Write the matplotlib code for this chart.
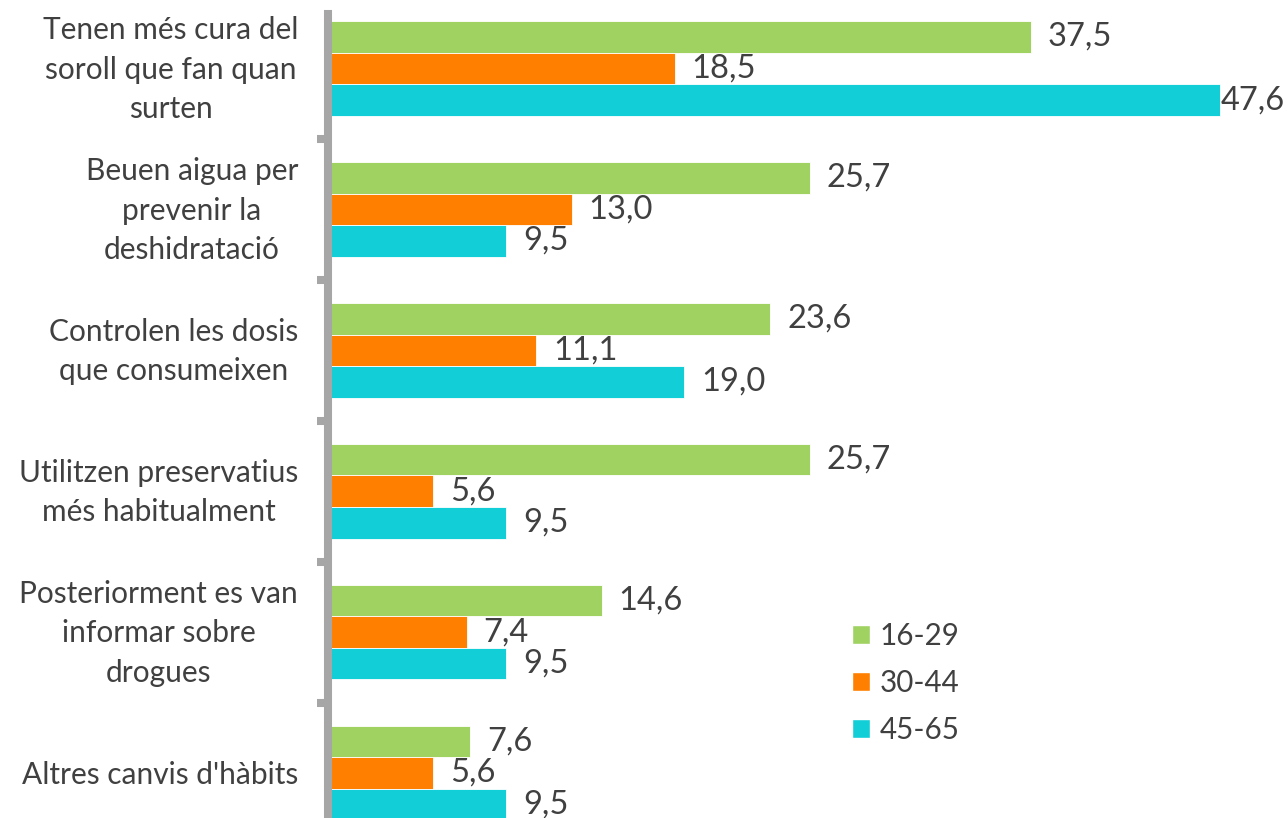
import matplotlib
matplotlib.use("Agg")
import matplotlib.pyplot as plt
import matplotlib.transforms as mtransforms
import numpy as np
from matplotlib.patches import Patch

# Data
categories = [
    "Tenen més cura del\nsoroll que fan quan\nsurten",
    "Beuen aigua per\nprevenir la\ndeshidratació",
    "Controlen les dosis\nque consumeixen",
    "Utilitzen preservatius\nmés habitualment",
    "Posteriorment es van\ninformar sobre\ndrogues",
    "Altres canvis d'hàbits",
]
series_names = ["16-29", "30-44", "45-65"]
v_16_29 = [37.5, 25.7, 23.6, 25.7, 14.6, 7.6]
v_30_44 = [18.5, 13.0, 11.1, 5.6, 7.4, 5.6]
v_45_65 = [47.6, 9.5, 19.0, 9.5, 9.5, 9.5]
colors = ["#A0D262", "#FF8000", "#12CFD7"]

plt.rcParams['font.family'] = ['Lato', 'DejaVu Sans']
text_color = "#404040"

W, H = 1288, 818
fig = plt.figure(figsize=(W / 100, H / 100), dpi=100)

# axes placed in pixel terms; the bottom runs past the picture edge like the source crop
left_px, right_px = 328, 1265
top_px, bot_px = 14, 860
ax = fig.add_axes([left_px / W, (H - bot_px) / H,
                   (right_px - left_px) / W, (bot_px - top_px) / H])

pitch = 140.9
first_center = 68.5
ax.set_ylim((bot_px - first_center) / pitch, (top_px - first_center) / pitch)
ax.set_xlim(0, (right_px - left_px) / 18.74)

y = np.arange(len(categories))
bh = 0.224
for k, (vals, c) in enumerate(zip([v_16_29, v_30_44, v_45_65], colors)):
    bars = ax.barh(y + (k - 1) * bh, vals, height=bh, color=c,
                   edgecolor="white", linewidth=0.6)
    for b, v in zip(bars, vals):
        lab = f"{v:.1f}".replace(".", ",")
        off = 17 if v < 45 else 1
        ax.annotate(lab, (v, b.get_y() + b.get_height() / 2),
                    xytext=(off * 0.72, 0), textcoords="offset points",
                    ha="left", va="center", fontsize=23.5, color=text_color,
                    annotation_clip=False)

ax.set_yticks(y)
ax.set_yticklabels(categories, fontsize=21.5, color=text_color,
                   multialignment="center", linespacing=1.5)
ax.tick_params(axis="y", which="major", length=0, pad=21.5)
# multi-line labels sit a bit low with the baseline centring, nudge them up
for t in ax.get_yticklabels():
    if "\n" in t.get_text():
        t.set_transform(t.get_transform() +
                        mtransforms.ScaledTranslation(0, 7 / 100, fig.dpi_scale_trans))
ax.set_yticks(y[:-1] + 0.5, minor=True)
ax.tick_params(axis="y", which="minor", length=8, width=5.8, color="#A6A6A6")
ax.set_xticks([])

for s in ["top", "right", "bottom"]:
    ax.spines[s].set_visible(False)
ax.spines["left"].set_color("#A6A6A6")
ax.spines["left"].set_linewidth(5.8)

handles = [Patch(facecolor=c, edgecolor="white") for c in colors]
ax.legend(handles, series_names, loc="upper left", frameon=False,
          bbox_to_anchor=(852 / W, 1 - 622 / H), bbox_transform=fig.transFigure,
          fontsize=21.3, handlelength=0.6, handleheight=0.6, handletextpad=0.34,
          labelspacing=0.64, borderpad=0, borderaxespad=0, labelcolor=text_color)

fig.savefig("out.png", dpi=100)
